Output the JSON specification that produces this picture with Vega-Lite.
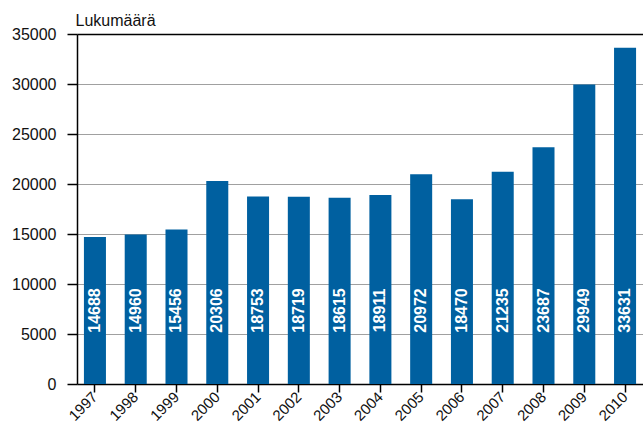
{
  "$schema": "https://vega.github.io/schema/vega-lite/v6.json",
  "autosize": {"type": "none"},
  "width": 566,
  "height": 350,
  "padding": {"left": 77, "top": 34, "right": 0, "bottom": 55},
  "background": "white",
  "data": {"values": [
    {"year": "1997", "count": 14688},
    {"year": "1998", "count": 14960},
    {"year": "1999", "count": 15456},
    {"year": "2000", "count": 20306},
    {"year": "2001", "count": 18753},
    {"year": "2002", "count": 18719},
    {"year": "2003", "count": 18615},
    {"year": "2004", "count": 18911},
    {"year": "2005", "count": 20972},
    {"year": "2006", "count": 18470},
    {"year": "2007", "count": 21235},
    {"year": "2008", "count": 23687},
    {"year": "2009", "count": 29949},
    {"year": "2010", "count": 33631}
  ]},
  "config": {
    "view": {"stroke": null},
    "font": "Liberation Sans",
    "axis": {
      "labelFont": "Liberation Sans",
      "titleFont": "Liberation Sans",
      "labelColor": "#111111",
      "titleColor": "#111111",
      "domainColor": "#000000",
      "tickColor": "#000000",
      "domainWidth": 1.5,
      "tickWidth": 1.5
    }
  },
  "encoding": {
    "x": {
      "field": "year",
      "type": "nominal",
      "sort": null,
      "scale": {"paddingInner": 0.46, "paddingOuter": 0.17},
      "axis": {
        "title": null,
        "labelAngle": -45,
        "labelAlign": "right",
        "labelBaseline": "middle",
        "labelFontSize": 15,
        "tickSize": 8,
        "labelPadding": 2,
        "grid": false
      }
    }
  },
  "layer": [
    {
      "mark": {"type": "bar", "color": "#0060a0"},
      "encoding": {
        "y": {
          "field": "count",
          "type": "quantitative",
          "scale": {"domain": [0, 35000], "nice": false},
          "axis": {
            "values": [0, 5000, 10000, 15000, 20000, 25000, 30000, 35000],
            "format": "d",
            "title": "Lukumäärä",
            "titleAngle": 0,
            "titleAlign": "left",
            "titleBaseline": "alphabetic",
            "titleX": -2,
            "titleY": -9,
            "titleFontSize": 16,
            "titleFontWeight": "normal",
            "labelFontSize": 16,
            "tickSize": 10,
            "labelPadding": 11,
            "grid": true,
            "gridColor": {"condition": {"test": "datum.value == 35000", "value": "#000000"}, "value": "#a0a0a0"},
            "gridWidth": {"condition": {"test": "datum.value == 35000", "value": 1.5}, "value": 1}
          }
        }
      }
    },
    {
      "mark": {
        "type": "text",
        "angle": 270,
        "align": "center",
        "baseline": "middle",
        "color": "white",
        "fontWeight": "bold",
        "fontSize": 16,
        "font": "Liberation Sans"
      },
      "encoding": {
        "y": {"datum": 7350, "type": "quantitative"},
        "text": {"field": "count", "type": "quantitative", "format": "d"}
      }
    }
  ]
}
